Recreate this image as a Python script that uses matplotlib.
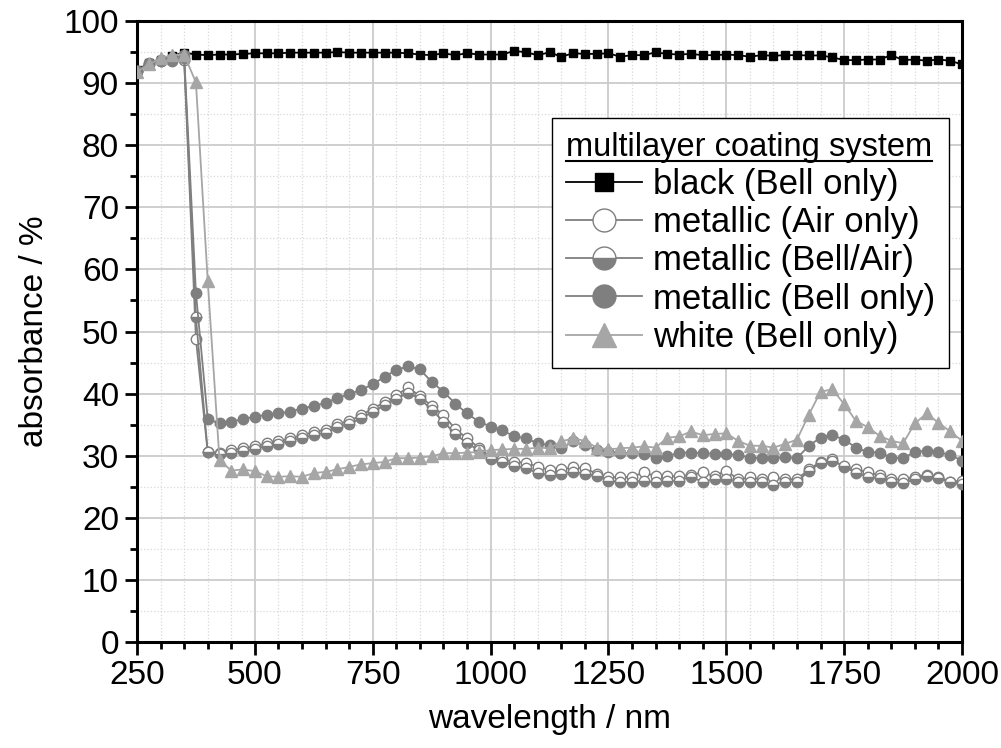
import numpy as np
import matplotlib
matplotlib.use('Agg')
import matplotlib.pyplot as plt
from matplotlib.lines import Line2D
from matplotlib.ticker import MultipleLocator

plt.rcParams['font.family'] = ['Liberation Sans', 'DejaVu Sans']

wavelength = np.arange(250, 2001, 25)

black_bell = [92.1, 93.2, 93.8, 94.4, 94.9, 94.6, 94.5, 94.6, 94.6, 94.7, 94.8, 94.8, 94.8, 94.9, 94.9,
              94.9, 94.9, 95.0, 94.9, 94.9, 94.9, 94.9, 94.9, 94.8, 94.6, 94.5, 94.8, 94.5, 94.8, 94.6,
              94.6, 94.6, 95.2, 94.95, 94.5, 94.95, 94.25, 94.8, 94.7, 94.7, 94.8, 94.25, 94.5, 94.5, 94.95,
              94.7, 94.6, 94.7, 94.5, 94.5, 94.6, 94.5, 94.25, 94.5, 94.4, 94.5, 94.5, 94.45, 94.45, 94.15,
              93.7, 93.7, 93.8, 93.8, 94.5, 93.7, 93.8, 93.6, 93.8, 93.6, 93.0]

metallic_air = [92.0, 93.0, 93.5, 93.5, 93.8, 48.8, 30.6, 30.5, 30.9, 31.2, 31.5, 32.0, 32.3, 32.8, 33.3,
                33.8, 34.2, 35.1, 35.6, 36.5, 37.6, 38.6, 39.7, 41.0, 39.6, 38.0, 36.6, 34.3, 32.8, 31.3,
                29.8, 29.4, 29.0, 28.9, 28.2, 27.7, 27.8, 28.1, 28.0, 27.1, 26.6, 26.5, 26.6, 27.3, 26.7,
                26.7, 26.7, 26.9, 27.3, 26.7, 27.6, 26.2, 26.5, 26.2, 26.5, 26.2, 26.2, 27.8, 29.0, 29.4,
                28.1, 27.8, 27.3, 26.9, 26.2, 26.2, 26.6, 26.9, 26.6, 25.8, 26.0]

metallic_bell_air = [92.0, 93.0, 93.5, 93.8, 94.0, 52.3, 30.6, 30.2, 30.5, 30.8, 31.0, 31.6, 31.9, 32.4, 32.8,
                     33.3, 33.7, 34.6, 35.1, 36.0, 37.1, 38.1, 39.2, 40.1, 39.2, 37.4, 35.5, 33.5, 32.0, 30.9,
                     29.4, 29.0, 28.4, 28.0, 27.2, 26.9, 27.1, 27.4, 27.1, 26.7, 26.0, 25.8, 25.8, 26.0, 25.7,
                     26.0, 26.0, 26.6, 25.8, 26.2, 26.2, 25.8, 25.8, 25.8, 25.3, 25.8, 25.7, 27.6, 28.8, 29.2,
                     28.3, 27.2, 26.6, 26.4, 25.8, 25.6, 26.2, 26.7, 26.4, 25.7, 25.4]

metallic_bell = [92.0, 93.2, 93.8, 94.0, 94.5, 56.2, 35.9, 35.2, 35.5, 35.9, 36.3, 36.6, 36.8, 37.1, 37.6,
                 38.0, 38.5, 39.3, 39.9, 40.6, 41.5, 42.7, 43.8, 44.4, 43.9, 41.9, 40.3, 38.4, 36.8, 35.5,
                 34.7, 34.1, 33.1, 32.8, 32.0, 31.7, 31.2, 32.3, 31.7, 30.9, 30.6, 30.5, 30.4, 30.3, 29.7,
                 29.9, 30.5, 30.5, 30.4, 30.3, 30.3, 30.1, 29.7, 29.6, 29.6, 29.8, 29.6, 31.6, 32.9, 33.3,
                 32.6, 31.3, 30.6, 30.5, 29.7, 29.6, 30.6, 30.8, 30.6, 30.1, 29.2]

white_bell = [91.8, 93.0, 94.0, 94.5, 94.6, 90.1, 58.2, 29.3, 27.6, 27.8, 27.5, 26.7, 26.6, 26.7, 26.6,
              27.2, 27.4, 27.8, 28.2, 28.6, 28.8, 29.0, 29.6, 29.6, 29.7, 29.9, 30.4, 30.4, 30.5, 30.6,
              30.9, 31.0, 31.1, 31.1, 31.3, 31.2, 32.3, 32.8, 32.4, 31.3, 31.0, 31.2, 31.3, 31.5, 31.3,
              32.9, 33.1, 33.9, 33.3, 33.5, 33.6, 32.4, 31.6, 31.6, 31.3, 31.9, 32.6, 36.6, 40.3, 40.7,
              38.3, 35.6, 34.6, 33.2, 32.4, 32.0, 35.2, 36.8, 35.3, 33.9, 32.4]

labels = ["black (Bell only)", "metallic (Air only)", "metallic (Bell/Air)",
          "metallic (Bell only)", "white (Bell only)"]

fig = plt.figure(figsize=(10.01, 7.48), dpi=100)
ax = fig.add_axes([137 / 1001, 1 - 642 / 748, 825 / 1001, 621 / 748])

grey = '#7f7f7f'
light = '#a6a6a6'
ax.plot(wavelength, black_bell, color='black', lw=1.3, marker='s', ms=6,
        mfc='black', mec='black', label=labels[0], zorder=3)
ax.plot(wavelength, metallic_air, color=grey, lw=1.3, marker='o', ms=7.5,
        mfc='white', mec=grey, mew=1.0, label=labels[1], zorder=4)
ax.plot(wavelength, metallic_bell_air, color=grey, lw=1.3, marker='o', ms=7.5,
        fillstyle='bottom', mfc=grey, mfcalt='white', mec=grey, mew=1.0,
        label=labels[2], zorder=4)
ax.plot(wavelength, metallic_bell, color=grey, lw=1.3, marker='o', ms=7.5,
        mfc=grey, mec=grey, label=labels[3], zorder=4)
ax.plot(wavelength, white_bell, color=light, lw=1.3, marker='^', ms=8,
        mfc=light, mec=light, label=labels[4], zorder=4)

ax.set_xlim(250, 2000)
ax.set_ylim(0, 100)
ax.xaxis.set_major_locator(MultipleLocator(250))
ax.xaxis.set_minor_locator(MultipleLocator(50))
ax.yaxis.set_major_locator(MultipleLocator(10))
ax.yaxis.set_minor_locator(MultipleLocator(5))
ax.grid(True, which='major', color='#cccccc', lw=1.3, zorder=0)
ax.grid(True, which='minor', color='#d9d9d9', lw=0.9, ls=':', zorder=0)
ax.set_axisbelow(True)
ax.tick_params(which='major', direction='out', length=9, width=2, labelsize=24, pad=4)
ax.tick_params(which='minor', direction='out', length=5, width=2)
for s in ax.spines.values():
    s.set_linewidth(2.2)

ax.set_xlabel('wavelength / nm', fontsize=24, labelpad=9)
ax.set_ylabel('absorbance / %', fontsize=24, labelpad=10)

leg = ax.legend(loc='upper right', bbox_to_anchor=(0.984, 0.844), borderaxespad=0,
                fontsize=25, title='multilayer coating system', title_fontsize=23.5,
                markerscale=2.2, handlelength=2.2, handletextpad=0.3,
                labelspacing=0.15, borderpad=0.4, fancybox=False, framealpha=1,
                edgecolor='black', alignment='left')
leg.get_frame().set_linewidth(1.0)

# underline the legend title
fig.canvas.draw()
bb = leg.get_title().get_window_extent().transformed(fig.transFigure.inverted())
fig.add_artist(Line2D([bb.x0, bb.x1], [bb.y0 + 0.002, bb.y0 + 0.002],
                      transform=fig.transFigure, color='black', lw=1.5))

fig.savefig('out.png', dpi=100)
